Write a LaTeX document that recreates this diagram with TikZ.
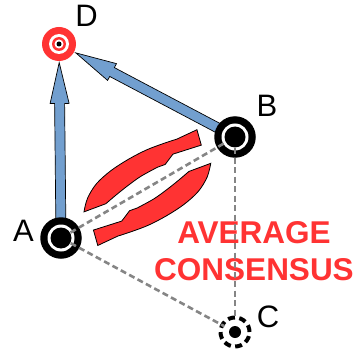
\documentclass[tikz,border=0pt]{standalone}
\usepackage{fontspec}
\setmainfont{Liberation Sans}
\usetikzlibrary{calc}
\definecolor{myred}{RGB}{255,51,51}
\definecolor{myblue}{RGB}{114,159,207}
\definecolor{mygray}{RGB}{133,133,133}
\pgfdeclarelayer{back}
\pgfdeclarelayer{bg}
\pgfsetlayers{back,bg,main}
\newcommand\blockarrow[2]{%
  \path (#1) coordinate (ba-s) (#2) coordinate (ba-t);
  \path ($(ba-t)!41pt!(ba-s)$) coordinate (ba-h);
  \filldraw[bluearrow] ($(ba-s)!5pt!90:(ba-t)$) -- ($(ba-h)!5pt!-90:(ba-s)$)
    -- ($(ba-h)!9.5pt!-90:(ba-s)$) -- (ba-t) -- ($(ba-h)!9.5pt!90:(ba-s)$)
    -- ($(ba-h)!5pt!90:(ba-s)$) -- ($(ba-s)!5pt!-90:(ba-t)$) -- cycle;
}
% one half of the rotation symbol, in coordinates along (s) and across (-n) the line A-B
\newcommand\rotarrow{%
  \filldraw[redarrow] plot[smooth, tension=0.55] coordinates {(33,-11) (43,-21) (58,-29) (77,-33) (98,-34) (118,-33) (136,-30) (150,-27)}
    -- (172,-25) -- (168,-9.5) -- (139,-16) -- (127,-11)
    -- plot[smooth, tension=0.55] coordinates {(119,-12.5) (100,-13) (84,-11.5) (70,-9.5) (56,-7)} -- cycle;
}
\begin{document}
\begin{tikzpicture}[x=1pt,y=-1pt,
  agent/.style={circle, fill=black, minimum size=41.5pt, inner sep=0pt,
    path picture={\fill[white] (path picture bounding box.center) circle (13.5pt);
                  \fill[black] (path picture bounding box.center) circle (10.5pt);}},
  target/.style={circle, fill=myred, minimum size=34pt, inner sep=0pt,
    path picture={\fill[white] (path picture bounding box.center) circle (10pt);
                  \fill[myred] (path picture bounding box.center) circle (7pt);
                  \fill[white] (path picture bounding box.center) circle (4.5pt);
                  \fill[black] (path picture bounding box.center) circle (2.5pt);}},
  ghost/.style={circle, draw=black, line width=4pt, dash pattern=on 7pt off 4.4pt,
    minimum size=29pt, inner sep=0pt,
    path picture={\fill[black] (path picture bounding box.center) circle (6pt);}},
  lbl/.style={inner sep=0pt, font=\fontsize{31}{36}\selectfont},
  title/.style={inner sep=0pt, align=center, text=myred,
    font=\bfseries\fontsize{31.5}{37.5}\selectfont},
  link/.style={draw=mygray, line width=2.6pt, dash pattern=on 6pt off 3.5pt},
  bluearrow/.style={fill=myblue, draw=black, line width=0.7pt, line join=miter},
  redarrow/.style={fill=myred, draw=black, line width=0.8pt, line join=miter}
]
\begin{pgfonlayer}{back}
  \fill[white] (0,0) rectangle (358,358);
\end{pgfonlayer}
\useasboundingbox (0,0) rectangle (358,358);

\node[agent] (A) at (61,238) {};
\node[agent] (B) at (235,137) {};
\node[ghost] (C) at (235,332) {};
\node[target] (D) at (59,44) {};

\node[lbl] (lA) at (23.5,230.5) {A};
\node[lbl] (lB) at (267,105.5) {B};
\node[lbl] (lC) at (268,317) {C};
\node[lbl] (lD) at (86.5,15.5) {D};

\node[title] (T) at (254,251) {AVERAGE\\CONSENSUS};

\path ($(D.center)!18.5pt!(A.center)$) coordinate (tipA);
\path ($(D.center)!19pt!(B.center)$) coordinate (tipB);
\begin{pgfonlayer}{bg}
  \blockarrow{A.center}{tipA}
  \blockarrow{B.center}{tipB}
\end{pgfonlayer}

\draw[link, shorten <=11pt, shorten >=11pt] (A.center) -- (B.center);
\draw[link, shorten <=11pt, shorten >=12pt] (A.center) -- (C.center);
\draw[link, shorten <=11pt, shorten >=14pt] (B.center) -- (C.center);

\begin{scope}[shift={(A.center)}, rotate=30.27]
  \rotarrow
\end{scope}
\begin{scope}[shift={(A.center)}, rotate=30.27]
  \begin{scope}[rotate around={180:(100,0)}]
    \rotarrow
  \end{scope}
\end{scope}
\end{tikzpicture}
\end{document}
